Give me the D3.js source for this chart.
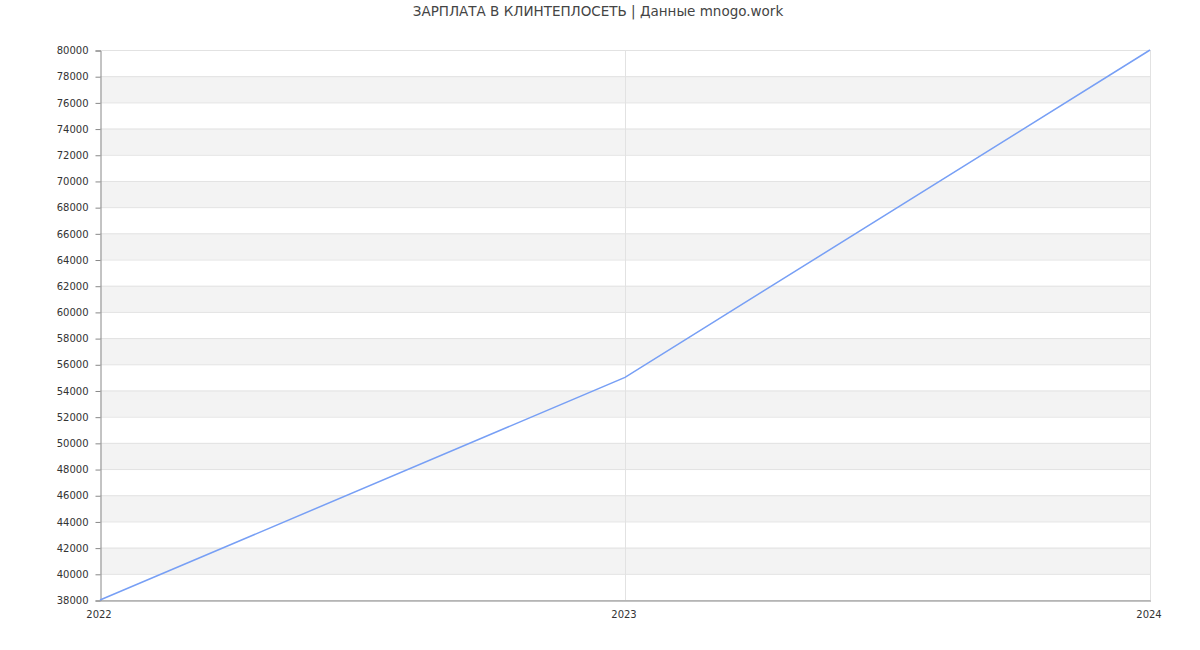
<!DOCTYPE html>
<html><head><meta charset="utf-8">
<script src="https://cdn.jsdelivr.net/npm/d3@7"></script>
<style>body{margin:0;background:#fff;font-family:"DejaVu Sans",sans-serif;}</style>
</head><body>
<svg id="c" width="1200" height="650"></svg>
<script>
const title = "ЗАРПЛАТА В КЛИНТЕПЛОСЕТЬ | Данные mnogo.work";
const years = [2022, 2023, 2024];
const salaries = [38000, 55000, 80000];
const yTicks = d3.range(38000, 80001, 2000);

const svg = d3.select("#c");
const m = {l:100, r:1150, t:50, b:600};
const x = d3.scaleLinear().domain([2022, 2024]).range([m.l, m.r]);
const y = d3.scaleLinear().domain([38000, 80000]).range([m.b, m.t]);

// bands
const bands = d3.range(40000, 80000, 4000);
svg.append("g").selectAll("rect").data(bands).join("rect")
  .attr("x", m.l).attr("width", m.r - m.l)
  .attr("y", d => y(d + 2000)).attr("height", d => y(d) - y(d + 2000))
  .attr("fill", "#f3f3f3");

// horizontal grid
svg.append("g").selectAll("line").data(yTicks).join("line")
  .attr("x1", m.l).attr("x2", m.r)
  .attr("y1", d => y(d) + 0.5).attr("y2", d => y(d) + 0.5)
  .attr("stroke", "#e2e2e2");
// vertical grid
svg.append("g").selectAll("line").data(years.slice(1)).join("line")
  .attr("x1", d => x(d) + 0.5).attr("x2", d => x(d) + 0.5)
  .attr("y1", m.t).attr("y2", m.b)
  .attr("stroke", "#e2e2e2");

// y axis
const ya = svg.append("g").attr("transform", `translate(${m.l + 0.5},0.5)`)
  .call(d3.axisLeft(y).tickValues(yTicks).tickSize(5).tickPadding(7).tickFormat(d3.format("d")));
ya.select(".domain").attr("stroke", "#888");
ya.selectAll(".tick line").attr("stroke", "#888");
ya.selectAll("text").attr("fill", "#333").style("font-size", "10px").style("font-family", "DejaVu Sans");

// x axis
const xa = svg.append("g").attr("transform", `translate(0.5,${m.b + 0.5})`)
  .call(d3.axisBottom(x).tickValues(years).tickSize(0).tickPadding(10).tickFormat(d3.format("d")));
xa.select(".domain").attr("stroke", "#888");
xa.selectAll("text").attr("fill", "#333").attr("dx", -2).style("font-size", "10px").style("font-family", "DejaVu Sans");

// line
svg.append("path").datum(years.map((yr, i) => [yr, salaries[i]]))
  .attr("fill", "none").attr("stroke", "#779ff5").attr("stroke-width", 1.5)
  .attr("d", d3.line().x(d => x(d[0])).y(d => y(d[1])));

svg.append("text").attr("x", 598).attr("y", 16).attr("text-anchor", "middle")
  .attr("fill", "#444").style("font-size", "13.5px").style("font-family", "DejaVu Sans")
  .text(title);
</script>
</body></html>
